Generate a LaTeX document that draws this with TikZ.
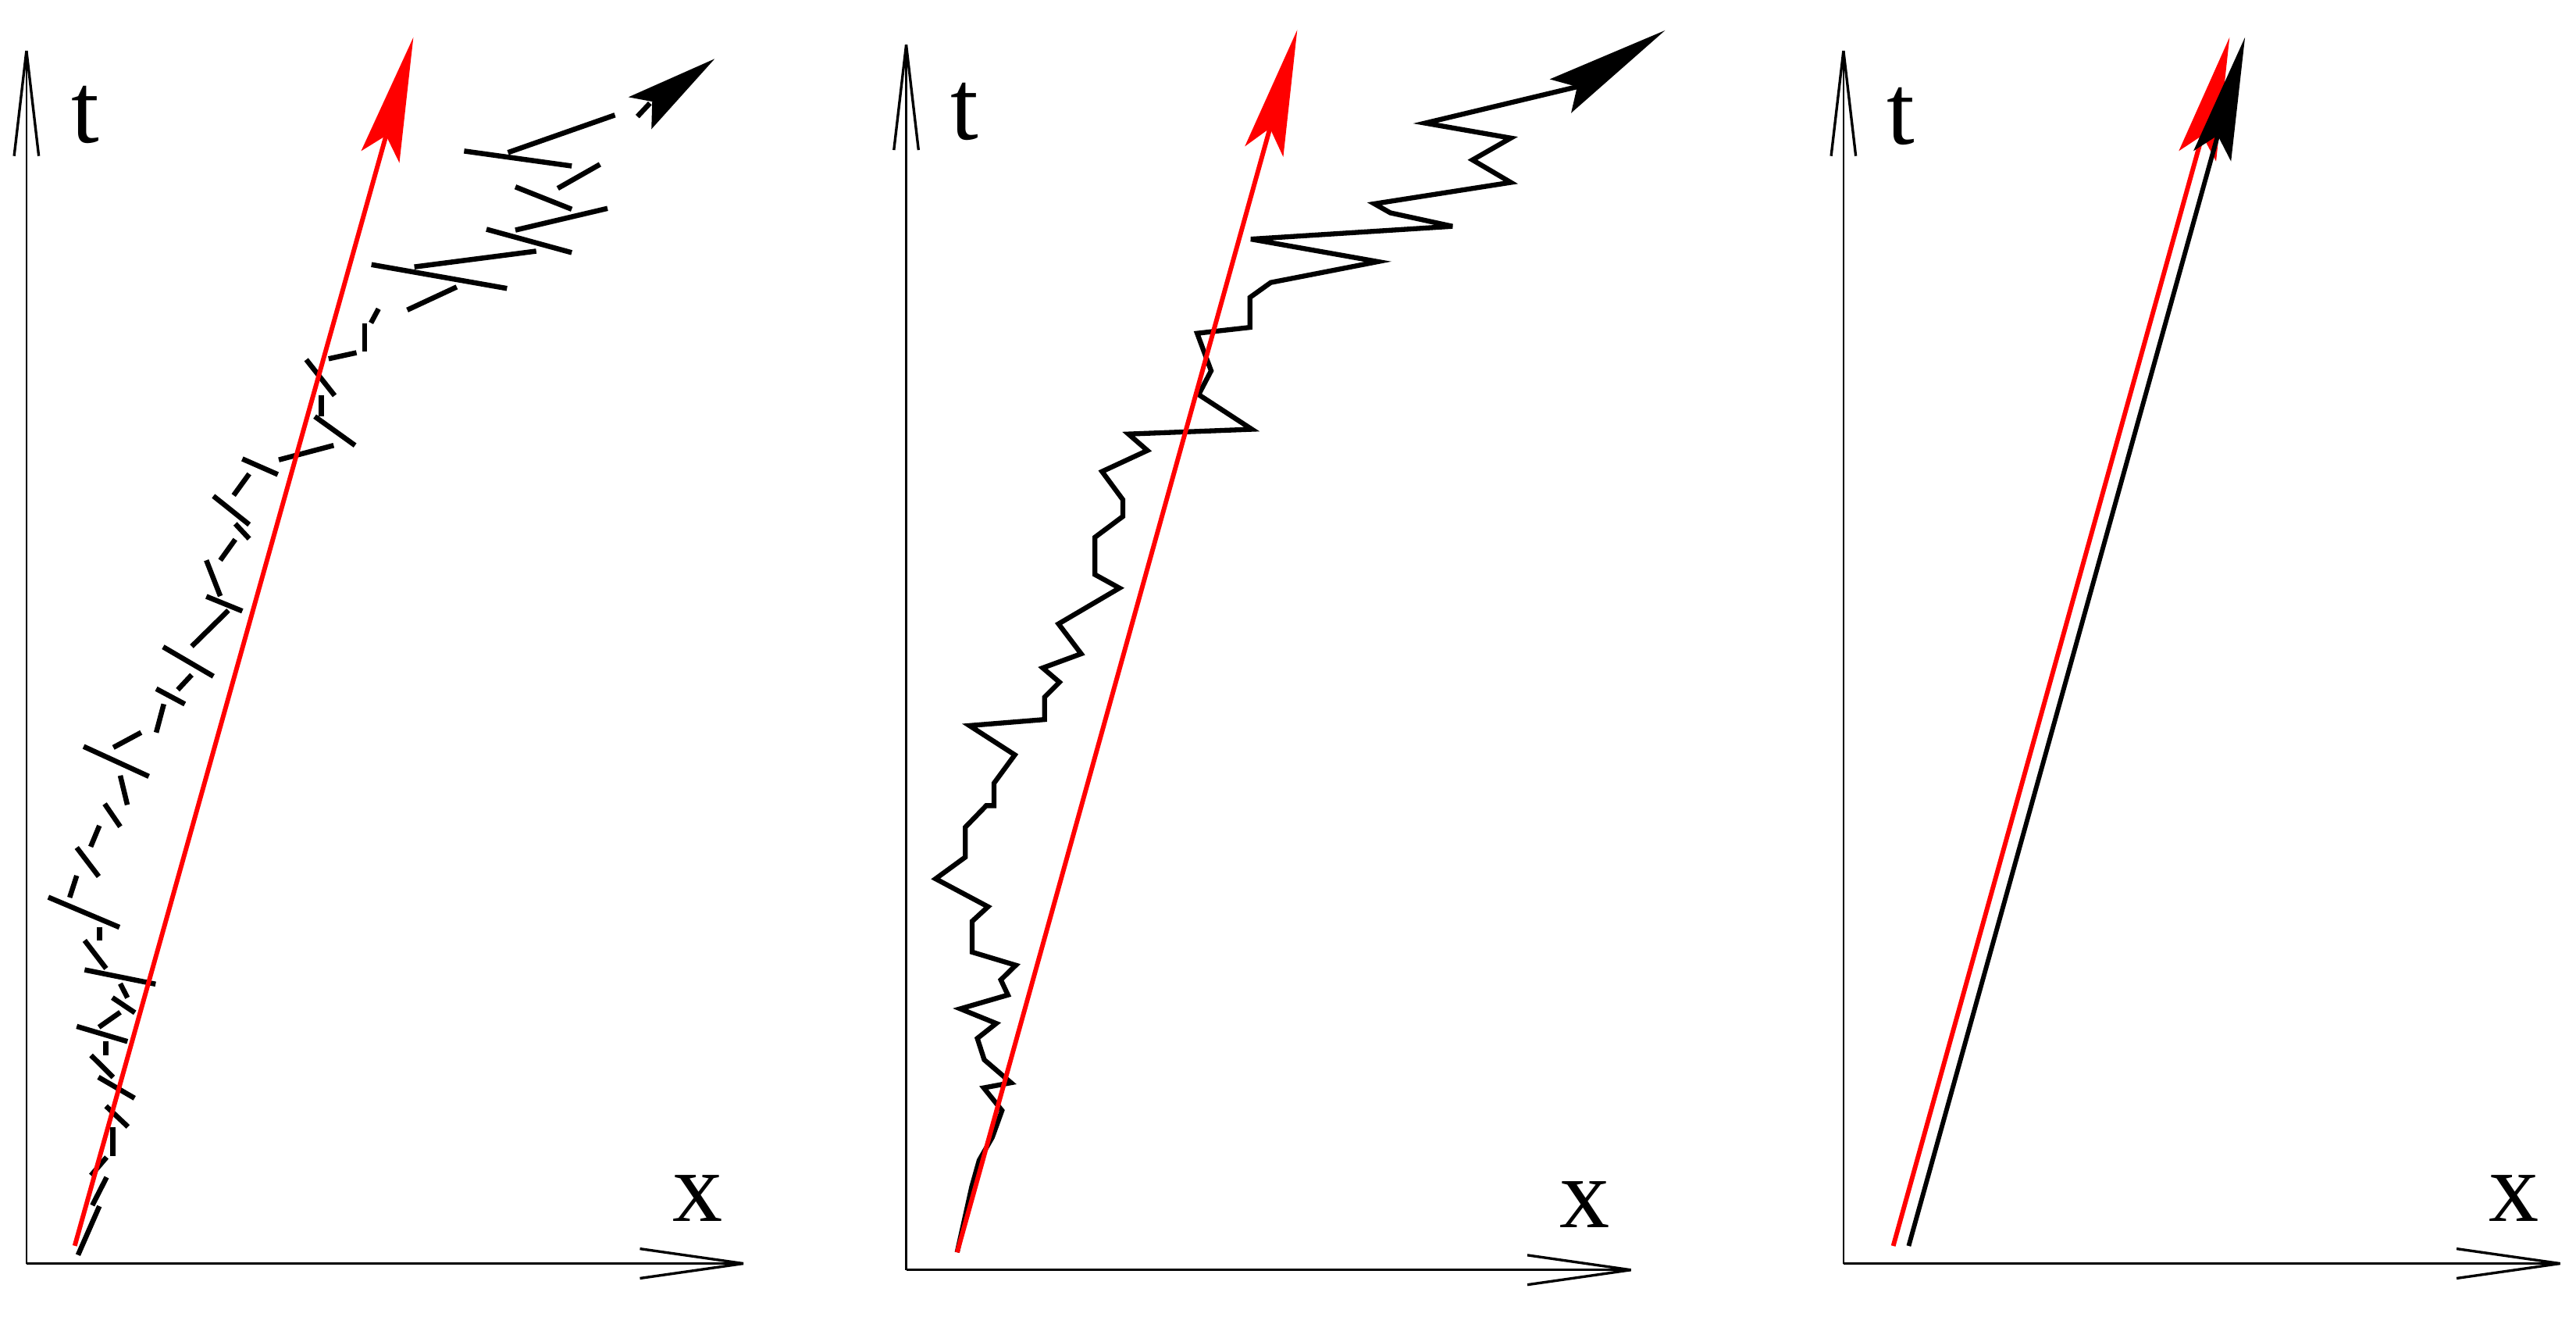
\documentclass[tikz,border=0pt]{standalone}
\usepackage{fontspec}
\setmainfont{Liberation Serif}
\begin{document}
\begin{tikzpicture}[x=1pt,y=-1pt,
  axisline/.style={line width=1.2pt,black},
  axisarm/.style={line width=1.6pt,black},
  lbl/.style={anchor=base,inner sep=0pt,font=\fontsize{61}{61}\selectfont},
  redline/.style={line width=2.8pt,red},
  blackline/.style={line width=2.8pt,black},
  dashseg/.style={line width=3.1pt,black,line cap=butt},
  walk/.style={line width=3.0pt,black,line join=miter,miter limit=6},
  redhead/.style={fill=red},
  blackhead/.style={fill=black}]
\path[use as bounding box] (0,0) rectangle (1568,801);

% ---------- axes ----------
\coordinate (o1) at (16.1,768.8);  \coordinate (t1) at (16.1,30.9);  \coordinate (x1) at (452.5,768.8);
\coordinate (o2) at (551.6,772.7); \coordinate (t2) at (551.6,27.3); \coordinate (x2) at (992.7,772.7);
\coordinate (o3) at (1122.1,768.8);\coordinate (t3) at (1122.1,30.9);\coordinate (x3) at (1558.3,768.8);
\foreach \i in {1,2,3}{
  \draw[axisline] (o\i) -- (t\i);
  \draw[axisline] (o\i) -- (x\i);
  \draw[axisarm] (t\i) -- ++(-7.5,64);
  \draw[axisarm] (t\i) -- ++(7.5,64);
  \draw[axisarm] (x\i) -- ++(-63,-9);
  \draw[axisarm] (x\i) -- ++(-63,9);
}
\node[lbl] (lt1) at (52,86.5) {t};
\node[lbl] (lx1) at (424.7,743) {x};
\node[lbl] (lt2) at (587,84.6) {t};
\node[lbl] (lx2) at (964.7,746.7) {x};
\node[lbl] (lt3) at (1157,87.7) {t};
\node[lbl] (lx3) at (1530.2,743) {x};

% ---------- panel 1: dashed walk ----------
\foreach \a/\b/\c/\d in {
 309.2/92.8/374.3/70.0, 388/70.9/395.6/62.8, 282.5/91.9/348/101,
 339.5/114.6/365.2/100, 313.7/113.7/348/127.3, 313.7/140/369.8/126.8,
 296.1/139.5/348/153.7, 252.2/162.4/326.4/152.8, 226.1/161/308.6/175.5,
 247.9/188.6/278/174.6, 225.8/196.5/230.4/187.9, 221.9/197/221.9/214.1,
 200/218.3/217/214.6, 186.4/218.8/203.7/240.7, 195.5/240.7/195.5/253.4,
 191.6/253.4/216.1/271, 169.7/279.8/203.1/271, 147.5/279.2/169.1/288.7,
 142.2/301.4/151.7/288.3, 129.9/301.8/151.7/319.2, 143.2/318.7/151.7/327.8,
 134.1/340.9/143.2/328.2, 125.6/340.9/134.1/362.7, 125.6/362.9/147.5/371.8,
 116.7/393.3/139/371.4, 99.3/393.6/129.9/411.5, 108.2/419.7/116.7/410.6,
 95.1/419.1/112.5/428.4, 95.1/445.7/99.7/428.4, 69/454.8/85.9/445.7,
 50.9/454.2/90.6/472.4, 73.2/471.9/77.5/489.7, 63.7/489.1/73.2/503,
 55.2/515.2/60.5/502.4, 46.7/515.7/60.1/533.3, 42.4/546.1/46.7/532.8,
 29.4/545.9/72.7/564.2, 60.6/564.2/60.6/572.2, 51.5/572.2/64.6/589.3,
 51.5/590.1/94.7/598.8, 73.2/598.5/77.6/607.1, 68.4/607.0/82.1/616.2,
 73.2/615.9/60.2/625, 46.7/624.5/77.6/633.7, 64.5/633.7/64.5/641.9,
 55.4/642.1/68.9/655.5, 59.9/655.4/81.9/668.2, 64.5/673/77.9/685.6,
 68.6/685.9/68.6/703.4, 64.9/704.1/55.4/715.2, 64.9/716.3/56.2/733.4,
 60.5/733.9/47.5/763.6}
  \draw[dashseg] (\a,\b) -- (\c,\d);
\fill[blackhead] (435,35.8) -- (382.5,59.1) -- (397,61.8) -- (396.5,78.6) -- cycle;

% panel 1 red
\coordinate (r1s) at (45.5,758);  \coordinate (r1n) at (235,82.5);
\draw[redline] (r1s) -- (r1n);
\fill[redhead] (251.6,22.7) -- (219.8,91.9) -- (r1n) -- (243.1,99.1) -- cycle;

% ---------- panel 2: solid walk ----------
\draw[walk] (582.6,762) -- (591.5,722) -- (596,706) -- (604,692) -- (609.9,675.7)
 -- (598.8,661.9) -- (615.4,658.8) -- (599.1,644.8) -- (594.9,631.8) -- (606.4,622.7)
 -- (584.5,613.8) -- (613.5,605.4) -- (609.2,596.2) -- (618.3,587.3) -- (591.7,579.3)
 -- (591.7,560.6) -- (601.4,551.7) -- (569.5,534.7) -- (587.6,521.5) -- (587.6,503.3)
 -- (600.3,490.2) -- (605,490.2) -- (605,476.6) -- (617.7,459.3) -- (590.1,441.5)
 -- (635.8,437.8) -- (635.8,424.2) -- (644.9,415.1) -- (634.7,406.4) -- (658.1,397.8)
 -- (644.3,379.6) -- (681.4,357.8) -- (666.5,349.6) -- (666.5,326.9) -- (683.5,314.2)
 -- (683.5,304.1) -- (670.8,286.9) -- (698.4,274.1) -- (686.9,264.1) -- (762,261.2)
 -- (729.6,240.1) -- (737.2,225.6) -- (728.7,202.8) -- (760.8,199.2) -- (760.8,181)
 -- (773.5,171.9) -- (838.7,159.2) -- (761.4,145.5) -- (884.1,137.7) -- (846.3,129.5)
 -- (836.6,124) -- (919.6,111) -- (896.3,97.3) -- (919.6,84) -- (867.5,74.9) -- (960,52.8);
\fill[blackhead] (1013.5,18.5) -- (943.3,48.2) -- (960,52.8) -- (956.3,68.8) -- cycle;

% panel 2 red
\coordinate (r2s) at (582.6,762); \coordinate (r2n) at (773,78);
\draw[redline] (r2s) -- (r2n);
\fill[redhead] (789.6,18.2) -- (757.7,89.1) -- (r2n) -- (781.1,95.5) -- cycle;

% ---------- panel 3 ----------
\coordinate (r3s) at (1152.4,758.1); \coordinate (r3n) at (1340.5,82.4);
\draw[redline] (r3s) -- (r3n);
\fill[redhead] (1357.1,22.7) -- (1326.2,91.9) -- (r3n) -- (1348.9,98.2) -- cycle;
\coordinate (b3s) at (1161.8,758.1); \coordinate (b3n) at (1349.9,82.4);
\draw[blackline] (b3s) -- (b3n);
\fill[blackhead] (1366.5,22.7) -- (1335.1,91.9) -- (b3n) -- (1358,98.2) -- cycle;
\end{tikzpicture}
\end{document}
